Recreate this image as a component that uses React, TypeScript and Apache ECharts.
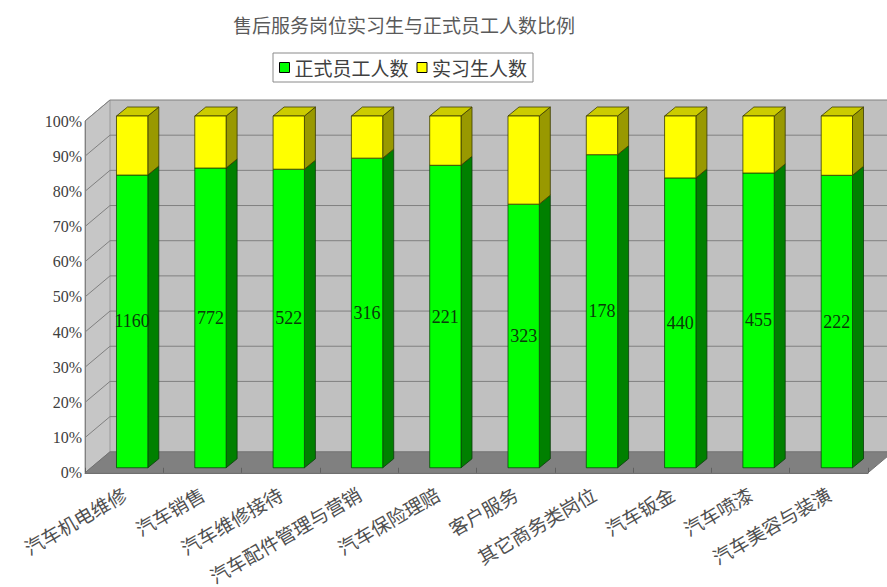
import React, { useEffect, useRef } from "react";
import * as echarts from "echarts";

const categories = [
  "汽车机电维修",
  "汽车销售",
  "汽车维修接待",
  "汽车配件管理与营销",
  "汽车保险理赔",
  "客户服务",
  "其它商务类岗位",
  "汽车钣金",
  "汽车喷漆",
  "汽车美容与装潢",
];
const staffCounts = [1160, 772, 522, 316, 221, 323, 178, 440, 455, 222];
const internCounts = [234, 134, 93, 43, 36, 108, 22, 94, 88, 45];
const yTicks = [0, 10, 20, 30, 40, 50, 60, 70, 80, 90, 100];

const CJK = '"Noto Sans CJK SC", sans-serif';
const SERIF = '"Liberation Serif", "DejaVu Serif", serif';

const WALL_DX = 25;
const WALL_DY = -21;
const FRONT_DX = 8;
const FRONT_DY = -5;
const BAR_DX = 11;
const BAR_DY = -9;

export default function App() {
  const ref = useRef<HTMLDivElement>(null);

  useEffect(() => {
    if (!ref.current) return;
    const chart = echarts.init(ref.current, null, { renderer: "svg" });

    const greenPct = staffCounts.map((s, i) => (s / (s + internCounts[i])) * 100);
    const greenData = greenPct.map((g, i) => [i, g]);
    const yellowData = greenPct.map((g, i) => [i, g, 100]);

    const wallsRender = (params: any, api: any) => {
      const cs = params.coordSys;
      const x0 = cs.x;
      const x1 = cs.x + cs.width;
      const yb = api.coord([0, 0])[1];
      const yt = api.coord([0, 100])[1];
      const children: any[] = [];
      children.push({
        type: "polygon",
        shape: {
          points: [
            [x0 + WALL_DX, yt + WALL_DY],
            [x1 + WALL_DX, yt + WALL_DY],
            [x1 + WALL_DX, yb + WALL_DY],
            [x0 + WALL_DX, yb + WALL_DY],
          ],
        },
        style: { fill: "#c0c0c0" },
      });
      children.push({
        type: "polygon",
        shape: {
          points: [
            [x0, yb],
            [x0, yt],
            [x0 + WALL_DX, yt + WALL_DY],
            [x0 + WALL_DX, yb + WALL_DY],
          ],
        },
        style: { fill: "#c6c6c6", stroke: "#9a9a9a", lineWidth: 1 },
      });
      children.push({
        type: "polygon",
        shape: {
          points: [
            [x0, yb],
            [x1, yb],
            [x1 + WALL_DX, yb + WALL_DY],
            [x0 + WALL_DX, yb + WALL_DY],
          ],
        },
        style: { fill: "#808080", stroke: "#707070", lineWidth: 1 },
      });
      yTicks.forEach((v) => {
        if (v === 0) return;
        const y = api.coord([0, v])[1];
        children.push({
          type: "polyline",
          shape: {
            points: [
              [x0, y],
              [x0 + WALL_DX, y + WALL_DY],
              [x1 + WALL_DX, y + WALL_DY],
            ],
          },
          style: { stroke: "#808080", lineWidth: 1, fill: "none" },
        });
      });
      return { type: "group", children };
    };

    const barGeom = (api: any, i: number, v0: number, v1: number) => {
      const p0 = api.coord([i, v0]);
      const p1 = api.coord([i, v1]);
      const band = api.size([1, 0])[0];
      const w = band * 0.4;
      const xl = p0[0] + FRONT_DX - w / 2;
      const xr = xl + w;
      const yb = p0[1] + FRONT_DY;
      const yt = p1[1] + FRONT_DY;
      return { xl, xr, yb, yt, w };
    };

    const greenRender = (params: any, api: any) => {
      const i = api.value(0);
      const v = api.value(1);
      const { xl, xr, yb, yt, w } = barGeom(api, i, 0, v);
      return {
        type: "group",
        children: [
          {
            type: "polygon",
            shape: {
              points: [
                [xr, yt],
                [xr + BAR_DX, yt + BAR_DY],
                [xr + BAR_DX, yb + BAR_DY],
                [xr, yb],
              ],
            },
            style: { fill: "#008000", stroke: "#0a3a0a", lineWidth: 0.8 },
          },
          {
            type: "rect",
            shape: { x: xl, y: yt, width: w, height: yb - yt },
            style: { fill: "#00ff00", stroke: "#0a4a0a", lineWidth: 0.8 },
          },
          {
            type: "text",
            style: {
              text: String(staffCounts[i]),
              x: (xl + xr) / 2,
              y: (yt + yb) / 2,
              align: "center",
              verticalAlign: "middle",
              fill: "#0a3a0a",
              fontSize: 18,
              fontFamily: SERIF,
            },
          },
        ],
      };
    };

    const yellowRender = (params: any, api: any) => {
      const i = api.value(0);
      const v0 = api.value(1);
      const v1 = api.value(2);
      const { xl, xr, yb, yt, w } = barGeom(api, i, v0, v1);
      return {
        type: "group",
        children: [
          {
            type: "polygon",
            shape: {
              points: [
                [xr, yt],
                [xr + BAR_DX, yt + BAR_DY],
                [xr + BAR_DX, yb + BAR_DY],
                [xr, yb],
              ],
            },
            style: { fill: "#999900", stroke: "#3a3a00", lineWidth: 0.8 },
          },
          {
            type: "polygon",
            shape: {
              points: [
                [xl, yt],
                [xr, yt],
                [xr + BAR_DX, yt + BAR_DY],
                [xl + BAR_DX, yt + BAR_DY],
              ],
            },
            style: { fill: "#cccc00", stroke: "#3a3a00", lineWidth: 0.8 },
          },
          {
            type: "rect",
            shape: { x: xl, y: yt, width: w, height: yb - yt },
            style: { fill: "#ffff00", stroke: "#3a3a00", lineWidth: 0.8 },
          },
        ],
      };
    };

    const option: any = {
      animation: false,
      backgroundColor: "#ffffff",
      title: {
        text: "售后服务岗位实习生与正式员工人数比例",
        left: 233,
        top: 15,
        padding: 0,
        textStyle: { fontSize: 19, fontWeight: "normal", color: "#5a5a5a", fontFamily: CJK },
      },
      legend: {
        top: 53,
        left: 273,
        itemWidth: 10,
        itemHeight: 10,
        itemGap: 8,
        borderColor: "#8a8a8a",
        borderWidth: 1,
        padding: [5, 6],
        textStyle: { fontSize: 19, color: "#404040", fontFamily: CJK },
        data: [
          { name: "正式员工人数", icon: "rect", itemStyle: { color: "#00ff00", borderColor: "#000", borderWidth: 1 } },
          { name: "实习生人数", icon: "rect", itemStyle: { color: "#ffff00", borderColor: "#000", borderWidth: 1 } },
        ],
      },
      grid: { left: 85, right: 19, top: 121, bottom: 114, containLabel: false },
      xAxis: {
        type: "category",
        data: categories,
        z: 10,
        axisLine: { show: true, lineStyle: { color: "#707070", width: 1 } },
        axisTick: { show: true, inside: true, length: 5, lineStyle: { color: "#606060" } },
        axisLabel: {
          interval: 0,
          rotate: 30,
          margin: 19,
          fontSize: 19,
          color: "#505050",
          fontFamily: CJK,
        },
        splitLine: { show: false },
      },
      yAxis: {
        type: "value",
        min: 0,
        max: 100,
        interval: 10,
        z: 10,
        axisLine: { show: true, lineStyle: { color: "#808080", width: 1 } },
        axisTick: { show: false },
        splitLine: { show: false },
        axisLabel: {
          formatter: "{value}%",
          margin: 3,
          fontSize: 16,
          color: "#404040",
          fontFamily: SERIF,
          padding: [8, 0, 0, 0],
        },
      },
      series: [
        {
          name: "bg",
          type: "custom",
          silent: true,
          z: 1,
          clip: false,
          data: [[0, 0]],
          renderItem: wallsRender,
          encode: { x: 0, y: 1 },
        },
        {
          name: "正式员工人数",
          type: "custom",
          z: 3,
          clip: false,
          itemStyle: { color: "#00ff00", borderColor: "#000", borderWidth: 1 },
          data: greenData,
          renderItem: greenRender,
          encode: { x: 0, y: 1 },
        },
        {
          name: "实习生人数",
          type: "custom",
          z: 3,
          clip: false,
          itemStyle: { color: "#ffff00", borderColor: "#000", borderWidth: 1 },
          data: yellowData,
          renderItem: yellowRender,
          encode: { x: 0, y: [1, 2] },
        },
      ],
    };

    chart.setOption(option);
    return () => chart.dispose();
  }, []);

  return (
    <div
      ref={ref}
      style={{ position: "fixed", left: 0, top: 0, width: 887, height: 587 }}
    />
  );
}
